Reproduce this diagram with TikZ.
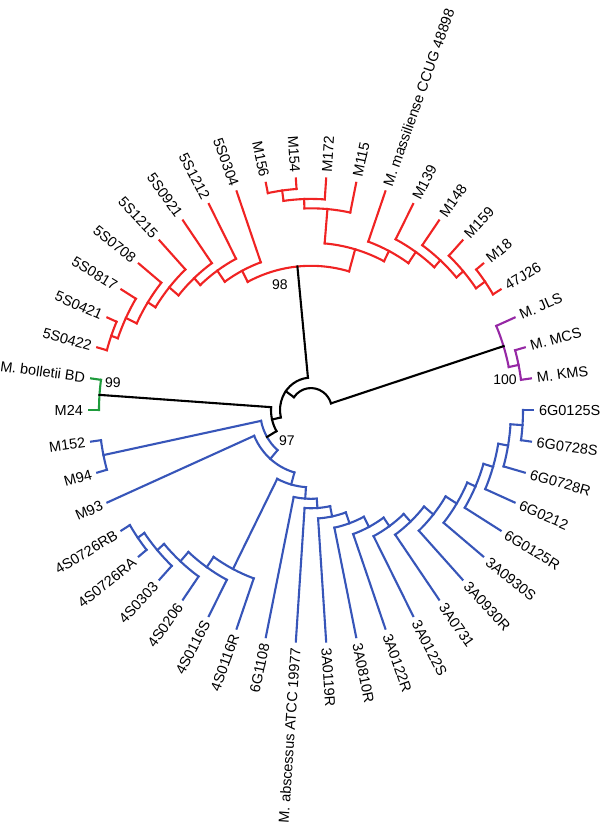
\documentclass[tikz,border=0pt]{standalone}
\usepackage{fontspec}
\setmainfont{Liberation Sans}
\definecolor{cred}{RGB}{240,35,35}
\definecolor{cblue}{RGB}{55,85,185}
\definecolor{cgreen}{RGB}{30,155,60}
\definecolor{cpurple}{RGB}{150,40,165}
\tikzset{
  leaflab/.style={font=\fontsize{14.5}{16}\selectfont, inner sep=0pt, text height=10.4pt, text depth=0pt},
  bootlab/.style={font=\fontsize{14}{16}\selectfont, inner sep=0pt}
}
% leaf: name, index, colour, text
\newcommand\LeafTip[4]{%
  \pgfmathsetmacro\tmpa{360-#2*360/46}%
  \expandafter\let\csname tA#1\endcsname\tmpa
  \expandafter\def\csname tS#1\endcsname{#3}%
  \coordinate (#1) at (\tmpa:222);
  \ifdim\tmpa pt>90pt\relax
    \ifdim\tmpa pt<270pt\relax
      \pgfmathsetmacro\tmpr{\tmpa-180}%
      \node[leaflab, anchor=east, rotate=\tmpr] (#1-l) at (\tmpa:227) {#4};%
    \else
      \node[leaflab, anchor=west, rotate=\tmpa] (#1-l) at (\tmpa:227) {#4};%
    \fi
  \else
    \node[leaflab, anchor=west, rotate=\tmpa] (#1-l) at (\tmpa:227) {#4};%
  \fi
}
% clade: parent, child1, child2, radius, arc colour, stem colour of parent
\newcommand\Clade[6]{%
  \pgfmathsetmacro\tmpa{(\csname tA#2\endcsname+\csname tA#3\endcsname)/2}%
  \expandafter\let\csname tA#1\endcsname\tmpa
  \expandafter\def\csname tS#1\endcsname{#6}%
  \coordinate (#1) at (\tmpa:#4);
  \edef\tmpb{\csname tA#2\endcsname}\edef\tmpc{\csname tA#3\endcsname}%
  \draw[draw=#5] (\tmpb:#4) coordinate (#1-s) arc[start angle=\tmpb, end angle=\tmpc, radius=#4] coordinate (#1-e);
  \edef\tmps{\csname tS#2\endcsname}%
  \draw[draw=\tmps] (#2) -- (#1-s);
  \edef\tmps{\csname tS#3\endcsname}%
  \draw[draw=\tmps] (#3) -- (#1-e);
}
\begin{document}
\begin{tikzpicture}[x=1pt,y=1pt]
\useasboundingbox (0,0) rectangle (600,-831);
\fill[white] (0,0) rectangle (600,-831);
\begin{scope}[shift={(311,-410)}, yscale=1.045, line width=2.1, line cap=rect]
\LeafTip{l0}{0}{cblue}{6G0125S}
\LeafTip{l1}{1}{cblue}{6G0728S}
\LeafTip{l2}{2}{cblue}{6G0728R}
\LeafTip{l3}{3}{cblue}{6G0212}
\LeafTip{l4}{4}{cblue}{6G0125R}
\LeafTip{l5}{5}{cblue}{3A0930S}
\LeafTip{l6}{6}{cblue}{3A0930R}
\LeafTip{l7}{7}{cblue}{3A0731}
\LeafTip{l8}{8}{cblue}{3A0122S}
\LeafTip{l9}{9}{cblue}{3A0122R}
\LeafTip{l10}{10}{cblue}{3A0810R}
\LeafTip{l11}{11}{cblue}{3A0119R}
\LeafTip{l12}{12}{cblue}{M. abscessus ATCC 19977}
\LeafTip{l13}{13}{cblue}{6G1108}
\LeafTip{l14}{14}{cblue}{4S0116R}
\LeafTip{l15}{15}{cblue}{4S0116S}
\LeafTip{l16}{16}{cblue}{4S0206}
\LeafTip{l17}{17}{cblue}{4S0303}
\LeafTip{l18}{18}{cblue}{4S0726RA}
\LeafTip{l19}{19}{cblue}{4S0726RB}
\LeafTip{l20}{20}{cblue}{M93}
\LeafTip{l21}{21}{cblue}{M94}
\LeafTip{l22}{22}{cblue}{M152}
\LeafTip{l23}{23}{cgreen}{M24}
\LeafTip{l24}{24}{cgreen}{M. bolletii BD}
\LeafTip{l25}{25}{cred}{5S0422}
\LeafTip{l26}{26}{cred}{5S0421}
\LeafTip{l27}{27}{cred}{5S0817}
\LeafTip{l28}{28}{cred}{5S0708}
\LeafTip{l29}{29}{cred}{5S1215}
\LeafTip{l30}{30}{cred}{5S0921}
\LeafTip{l31}{31}{cred}{5S1212}
\LeafTip{l32}{32}{cred}{5S0304}
\LeafTip{l33}{33}{cred}{M156}
\LeafTip{l34}{34}{cred}{M154}
\LeafTip{l35}{35}{cred}{M172}
\LeafTip{l36}{36}{cred}{M115}
\LeafTip{l37}{37}{cred}{M. massiliense CCUG 48898}
\LeafTip{l38}{38}{cred}{M139}
\LeafTip{l39}{39}{cred}{M148}
\LeafTip{l40}{40}{cred}{M159}
\LeafTip{l41}{41}{cred}{M18}
\LeafTip{l42}{42}{cred}{47J26}
\LeafTip{l43}{43}{cpurple}{M. JLS}
\LeafTip{l44}{44}{cpurple}{M. MCS}
\LeafTip{l45}{45}{cpurple}{M. KMS}
% blue clade
\Clade{C1}{l0}{l1}{212}{cblue}{cblue}
\Clade{C2}{C1}{l2}{200}{cblue}{cblue}
\Clade{C3}{C2}{l3}{190}{cblue}{cblue}
\Clade{C4}{C3}{l4}{180}{cblue}{cblue}
\Clade{C5}{C4}{l5}{171}{cblue}{cblue}
\Clade{C6}{C5}{l6}{158}{cblue}{cblue}
\Clade{C7}{C6}{l7}{146}{cblue}{cblue}
\Clade{C8}{C7}{l8}{136}{cblue}{cblue}
\Clade{C9}{C8}{l9}{126}{cblue}{cblue}
\Clade{C10}{C9}{l10}{115}{cblue}{cblue}
\Clade{C11}{C10}{l11}{104}{cblue}{cblue}
\Clade{C12}{C11}{l12}{94}{cblue}{cblue}
\Clade{C13}{C12}{l13}{85}{cblue}{cblue}
\Clade{D1}{l19}{l18}{212}{cblue}{cblue}
\Clade{D2}{D1}{l17}{204}{cblue}{cblue}
\Clade{D3}{D2}{l16}{195}{cblue}{cblue}
\Clade{D4}{D3}{l15}{183}{cblue}{cblue}
\Clade{D5}{D4}{l14}{171}{cblue}{cblue}
\Clade{C14}{C13}{D5}{74}{cblue}{cblue}
\Clade{B1}{l22}{l21}{212}{cblue}{cblue}
\Clade{B3}{l20}{C14}{62}{cblue}{cblue}
\Clade{B2}{B1}{B3}{51}{cblue}{black}
% green clade
\Clade{G}{l24}{l23}{212}{cgreen}{black}
\Clade{N2}{G}{B2}{40}{black}{black}
% red clade
\Clade{L1}{l25}{l26}{212}{cred}{cred}
\Clade{L2}{L1}{l27}{205}{cred}{cred}
\Clade{L3}{L2}{l28}{193}{cred}{cred}
\Clade{L4}{L3}{l29}{184}{cred}{cred}
\Clade{L5}{L4}{l30}{172}{cred}{cred}
\Clade{L6}{L5}{l31}{163}{cred}{cred}
\Clade{L7}{L6}{l32}{150}{cred}{cred}
\Clade{P1}{l33}{l34}{212}{cred}{cred}
\Clade{P2}{P1}{l35}{202}{cred}{cred}
\Clade{P3}{P2}{l36}{193}{cred}{cred}
\Clade{Q1}{l41}{l42}{213}{cred}{cred}
\Clade{Q2}{l40}{Q1}{202}{cred}{cred}
\Clade{Q3}{l39}{Q2}{193}{cred}{cred}
\Clade{Q4}{l38}{Q3}{184}{cred}{cred}
\Clade{Q5}{l37}{Q4}{171}{cred}{cred}
\Clade{P4}{P3}{Q5}{160}{cred}{cred}
\Clade{R0}{L7}{P4}{138}{cred}{black}
\Clade{N1}{R0}{N2}{31}{black}{black}
% purple clade
\Clade{M1}{l44}{l45}{212}{cpurple}{cpurple}
\Clade{M2}{l43}{M1}{202}{cpurple}{black}
% root
\Clade{Root}{N1}{M2}{21}{black}{black}
\end{scope}
% bootstrap values
\node[bootlab] (b98) at (280,-285) {98};
\node[bootlab] (b99) at (113,-383) {99};
\node[bootlab] (b97) at (287,-441) {97};
\node[bootlab] (b100) at (505,-380) {100};
\end{tikzpicture}
\end{document}
